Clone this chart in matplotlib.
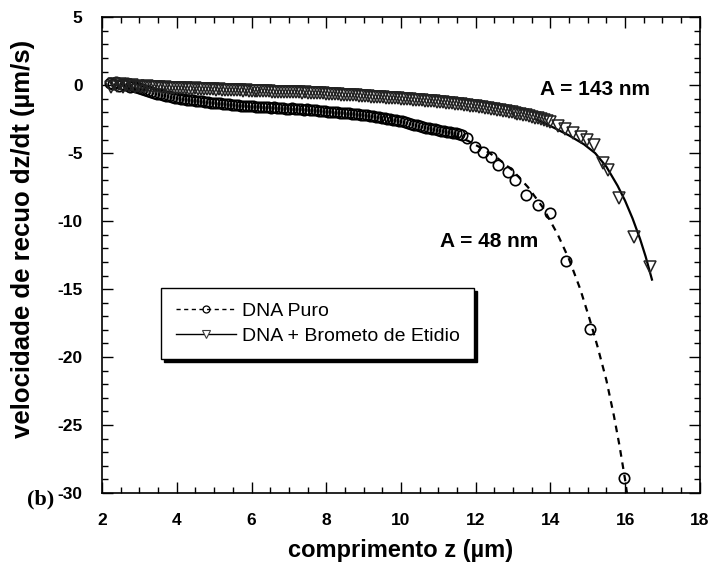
import matplotlib
matplotlib.use("Agg")
import matplotlib.pyplot as plt
from matplotlib.lines import Line2D
from matplotlib.ticker import MultipleLocator

# DNA Puro (circles)
z_puro = [2.20, 2.28, 2.36, 2.44, 2.52, 2.60, 2.68, 2.76, 2.84, 2.92,
          3.00, 3.08, 3.16, 3.24, 3.32, 3.40, 3.48, 3.56, 3.64, 3.72,
          3.80, 3.88, 3.96, 4.04, 4.12, 4.20, 4.28, 4.36, 4.44, 4.52,
          4.60, 4.68, 4.76, 4.84, 4.92, 5.00, 5.08, 5.16, 5.24, 5.32,
          5.40, 5.48, 5.56, 5.64, 5.72, 5.80, 5.88, 5.96, 6.04, 6.12,
          6.20, 6.28, 6.36, 6.44, 6.52, 6.60, 6.68, 6.76, 6.84, 6.92,
          7.00, 7.08, 7.16, 7.24, 7.32, 7.40, 7.48, 7.56, 7.64, 7.72,
          7.80, 7.88, 7.96, 8.04, 8.12, 8.20, 8.28, 8.36, 8.44, 8.52,
          8.60, 8.68, 8.76, 8.84, 8.92, 9.00, 9.08, 9.16, 9.24, 9.32,
          9.40, 9.48, 9.56, 9.64, 9.72, 9.80, 9.88, 9.96, 10.04, 10.12,
          10.20, 10.28, 10.36, 10.44, 10.52, 10.60, 10.68, 10.76, 10.84, 10.92,
          11.00, 11.08, 11.16, 11.24, 11.32, 11.40, 11.48, 11.56, 11.64,
          11.76, 11.97, 12.19, 12.40, 12.60, 12.86, 13.04, 13.36, 13.66, 14.00,
          14.43, 15.07, 15.98]
v_puro = [0.15, 0.05, 0.20, -0.05, 0.10, 0.00, 0.15, -0.10, -0.05, -0.15,
          -0.20, -0.30, -0.35, -0.42, -0.48, -0.55, -0.62, -0.68, -0.72, -0.78,
          -0.82, -0.88, -0.92, -0.95, -1.00, -1.02, -1.06, -1.10, -1.12, -1.16,
          -1.18, -1.20, -1.24, -1.25, -1.28, -1.30, -1.32, -1.33, -1.36, -1.38,
          -1.42, -1.43, -1.45, -1.47, -1.50, -1.50, -1.53, -1.55, -1.54, -1.58,
          -1.60, -1.58, -1.62, -1.64, -1.66, -1.63, -1.68, -1.70, -1.69, -1.72,
          -1.73, -1.71, -1.76, -1.75, -1.78, -1.80, -1.79, -1.83, -1.85, -1.84,
          -1.88, -1.90, -1.92, -1.95, -1.94, -1.98, -2.00, -2.02, -2.04, -2.06,
          -2.08, -2.10, -2.12, -2.15, -2.18, -2.20, -2.22, -2.26, -2.28, -2.32,
          -2.35, -2.40, -2.42, -2.47, -2.50, -2.54, -2.58, -2.62, -2.66, -2.72,
          -2.78, -2.84, -2.90, -2.95, -3.00, -3.06, -3.12, -3.16, -3.20, -3.26,
          -3.30, -3.34, -3.38, -3.42, -3.46, -3.50, -3.55, -3.60, -3.66,
          -3.90, -4.56, -4.90, -5.30, -5.90, -6.40, -7.00, -8.10, -8.80, -9.40,
          -12.90, -17.90, -28.90]

# DNA + Brometo de Etidio (triangles)
z_brom = [2.24, 2.32, 2.40, 2.48, 2.56, 2.64, 2.72, 2.80, 2.88, 2.96,
          3.04, 3.12, 3.20, 3.28, 3.36, 3.44, 3.52, 3.60, 3.68, 3.76,
          3.84, 3.92, 4.00, 4.08, 4.16, 4.24, 4.32, 4.40, 4.48, 4.56,
          4.64, 4.72, 4.80, 4.88, 4.96, 5.04, 5.12, 5.20, 5.28, 5.36,
          5.44, 5.52, 5.60, 5.68, 5.76, 5.84, 5.92, 6.00, 6.08, 6.16,
          6.24, 6.32, 6.40, 6.48, 6.56, 6.64, 6.72, 6.80, 6.88, 6.96,
          7.04, 7.12, 7.20, 7.28, 7.36, 7.44, 7.52, 7.60, 7.68, 7.76,
          7.84, 7.92, 8.00, 8.08, 8.16, 8.24, 8.32, 8.40, 8.48, 8.56,
          8.64, 8.72, 8.80, 8.88, 8.96, 9.04, 9.12, 9.20, 9.28, 9.36,
          9.44, 9.52, 9.60, 9.68, 9.76, 9.84, 9.92, 10.00, 10.08, 10.16,
          10.24, 10.32, 10.40, 10.48, 10.56, 10.64, 10.72, 10.80, 10.88, 10.96,
          11.04, 11.12, 11.20, 11.28, 11.36, 11.44, 11.52, 11.60, 11.68, 11.76,
          11.84, 11.92, 12.00, 12.08, 12.16, 12.24, 12.32, 12.40, 12.48, 12.56,
          12.64, 12.72, 12.80, 12.88, 12.96, 13.04, 13.12, 13.20, 13.28, 13.36,
          13.44, 13.52, 13.60, 13.68, 13.76, 13.84, 13.92, 14.00,
          14.20, 14.38, 14.60, 14.83, 14.97, 15.18, 15.40, 15.53, 15.85, 16.25,
          16.68]
v_brom = [-0.10, 0.05, -0.05, 0.10, -0.10, 0.00, -0.08, -0.02, -0.10, -0.06,
          -0.10, -0.12, -0.08, -0.14, -0.12, -0.16, -0.15, -0.18, -0.15, -0.19,
          -0.20, -0.18, -0.22, -0.21, -0.24, -0.22, -0.25, -0.27, -0.24, -0.28,
          -0.27, -0.30, -0.28, -0.31, -0.30, -0.33, -0.32, -0.34, -0.33, -0.36,
          -0.35, -0.38, -0.36, -0.39, -0.40, -0.38, -0.42, -0.41, -0.43, -0.42,
          -0.45, -0.44, -0.46, -0.45, -0.48, -0.47, -0.49, -0.48, -0.50, -0.51,
          -0.50, -0.53, -0.52, -0.54, -0.55, -0.53, -0.56, -0.58, -0.57, -0.59,
          -0.60, -0.61, -0.63, -0.62, -0.65, -0.66, -0.67, -0.69, -0.70, -0.72,
          -0.72, -0.74, -0.76, -0.77, -0.79, -0.80, -0.82, -0.84, -0.85, -0.87,
          -0.88, -0.90, -0.91, -0.93, -0.95, -0.96, -0.98, -1.00, -1.01, -1.03,
          -1.05, -1.07, -1.08, -1.10, -1.12, -1.14, -1.15, -1.18, -1.20, -1.22,
          -1.24, -1.26, -1.28, -1.31, -1.33, -1.36, -1.38, -1.41, -1.44, -1.47,
          -1.50, -1.53, -1.56, -1.59, -1.62, -1.66, -1.69, -1.72, -1.76, -1.80,
          -1.84, -1.88, -1.92, -1.96, -2.00, -2.05, -2.09, -2.14, -2.18, -2.23,
          -2.28, -2.34, -2.39, -2.45, -2.50, -2.56, -2.63, -2.70,
          -3.00, -3.20, -3.50, -3.80, -4.00, -4.40, -5.70, -6.25, -8.30, -11.20,
          -13.40]

# fitted curves
z_fit_puro = [11.4, 11.8, 12.2, 12.6, 13.0, 13.4, 13.8, 14.2, 14.5, 14.8, 15.05,
              15.26, 15.5, 15.7, 15.85, 16.0, 16.08]
v_fit_puro = [-3.7, -4.1, -4.7, -5.4, -6.3, -7.5, -9.0, -11.0, -12.8, -15.0,
              -17.2, -19.2, -21.7, -24.3, -26.5, -29.0, -30.6]
z_fit_brom = [13.6, 14.0, 14.5, 14.9, 15.2, 15.5, 15.8, 16.0, 16.2, 16.4, 16.55,
              16.72]
v_fit_brom = [-2.5, -3.0, -3.7, -4.35, -5.0, -6.0, -7.4, -8.5, -9.8, -11.3,
              -12.6, -14.3]

plt.rcParams["font.family"] = ["Liberation Sans", "DejaVu Sans"]
plt.rcParams["axes.unicode_minus"] = False

fig = plt.figure(figsize=(7.09, 5.72), dpi=100)
ax = fig.add_axes([0.144, 0.138, 0.843, 0.832])

ax.plot(z_fit_puro, v_fit_puro, color="black", lw=1.6, ls=(0, (3, 2.6)), zorder=2)
ax.plot(z_fit_brom, v_fit_brom, color="black", lw=1.6, ls="-", zorder=2)
ax.plot(z_puro, v_puro, ls="none", marker="o", ms=7.5, mfc="none", mec="black",
        mew=1.2, zorder=3)
ax.plot(z_brom, v_brom, ls="none", marker="v", ms=8.5, mfc="none", mec="#222222",
        mew=1.1, zorder=4)

ax.set_xlim(2, 18)
ax.set_ylim(-30, 5)
ax.xaxis.set_major_locator(MultipleLocator(2))
ax.xaxis.set_minor_locator(MultipleLocator(0.5))
ax.yaxis.set_major_locator(MultipleLocator(5))
ax.yaxis.set_minor_locator(MultipleLocator(1))
ax.tick_params(which="both", direction="in", top=True, right=True, width=1.0)
ax.tick_params(which="major", length=8, labelsize=12.5)
ax.tick_params(axis="x", which="major", pad=14)
ax.tick_params(axis="y", which="major", pad=14)
ax.tick_params(which="minor", length=4.5)
for lab in ax.get_xticklabels() + ax.get_yticklabels():
    lab.set_fontweight("bold")
for sp in ax.spines.values():
    sp.set_linewidth(1.2)

ax.set_xlabel("comprimento z (\u00b5m)", fontsize=17, fontweight="bold", labelpad=8)
ax.set_ylabel("velocidade de recuo dz/dt (\u00b5m/s)", fontsize=18.5, fontweight="bold",
              labelpad=6)
ax.yaxis.set_label_coords(-0.112, 0.535)

ax.text(15.2, -0.3, "A = 143 nm", fontsize=15, fontweight="bold",
        ha="center", va="center")
ax.text(12.35, -11.5, "A = 48 nm", fontsize=15, fontweight="bold",
        ha="center", va="center")

fig.text(0.058, 0.127, "(b)", fontsize=16, fontweight="bold",
         family=["Liberation Serif", "DejaVu Serif"], ha="center", va="center")

handles = [
    Line2D([], [], color="black", lw=1.0, ls=(0, (3, 2.5)), marker="o", ms=5,
           mfc="none", mec="black", mew=0.9),
    Line2D([], [], color="black", lw=1.0, ls="-", marker="v", ms=6,
           mfc="white", mec="#3a3a3a", mew=0.8),
]
leg = ax.legend(handles, ["DNA Puro", "DNA + Brometo de Etidio"],
                loc="upper left", bbox_to_anchor=(0.099, 0.431),
                prop={"size": 14}, frameon=True, fancybox=False,
                handlelength=3.1, handletextpad=0.3, borderpad=0.75,
                labelspacing=0.35, borderaxespad=0,
                shadow={"color": "black", "alpha": 1.0})
leg.get_frame().set_edgecolor("black")
leg.get_frame().set_linewidth(1.0)

fig.savefig("out.png", dpi=100)
